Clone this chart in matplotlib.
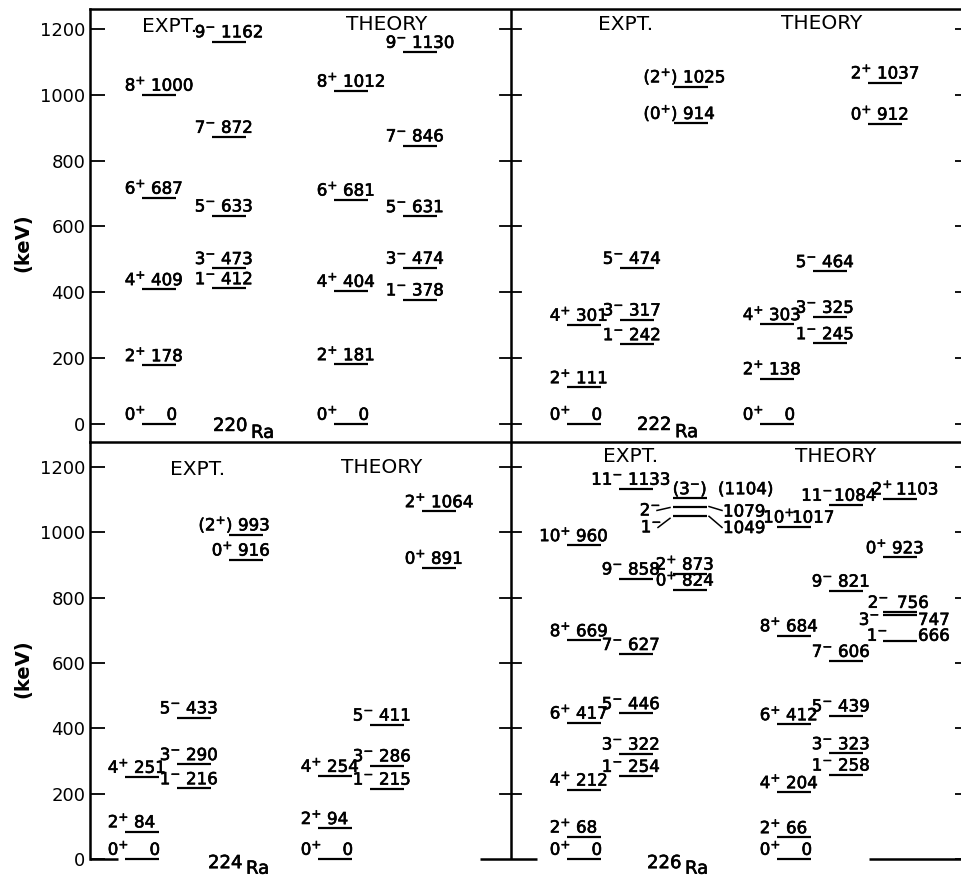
import re
import matplotlib
matplotlib.use("Agg")
import matplotlib.pyplot as plt
import matplotlib.patheffects as pe

# ---------------------------------------------------------------------------
# Level energies (keV) and spin-parity assignments of the Ra isotopes
# ---------------------------------------------------------------------------
RA220_EXPT_SPIN = [["0+", "2+", "4+", "6+", "8+"], ["1-", "3-", "5-", "7-", "9-"]]
RA220_EXPT_KEV = [[0, 178, 409, 687, 1000], [412, 473, 633, 872, 1162]]
RA220_THEO_SPIN = [["0+", "2+", "4+", "6+", "8+"], ["1-", "3-", "5-", "7-", "9-"]]
RA220_THEO_KEV = [[0, 181, 404, 681, 1012], [378, 474, 631, 846, 1130]]

RA222_EXPT_SPIN = [["0+", "2+", "4+"], ["1-", "3-", "5-"], ["(0+)", "(2+)"]]
RA222_EXPT_KEV = [[0, 111, 301], [242, 317, 474], [914, 1025]]
RA222_THEO_SPIN = [["0+", "2+", "4+"], ["1-", "3-", "5-"], ["0+", "2+"]]
RA222_THEO_KEV = [[0, 138, 303], [245, 325, 464], [912, 1037]]

RA224_EXPT_SPIN = [["0+", "2+", "4+"], ["1-", "3-", "5-"], ["0+", "(2+)"]]
RA224_EXPT_KEV = [[0, 84, 251], [216, 290, 433], [916, 993]]
RA224_THEO_SPIN = [["0+", "2+", "4+"], ["1-", "3-", "5-"], ["0+", "2+"]]
RA224_THEO_KEV = [[0, 94, 254], [215, 286, 411], [891, 1064]]

RA226_EXPT_SPIN = [["0+", "2+", "4+", "6+", "8+", "10+"],
                   ["1-", "3-", "5-", "7-", "9-", "11-"], ["0+", "2+"]]
RA226_EXPT_KEV = [[0, 68, 212, 417, 669, 960],
                  [254, 322, 446, 627, 858, 1133], [824, 873]]
RA226_EXPT_OCT_SPIN = ["1-", "2-", "(3-)"]
RA226_EXPT_OCT_KEV = [1049, 1079, 1104]
RA226_THEO_SPIN = [["0+", "2+", "4+", "6+", "8+", "10+"],
                   ["1-", "3-", "5-", "7-", "9-", "11-"], ["0+", "2+"]]
RA226_THEO_KEV = [[0, 66, 204, 412, 684, 1017],
                  [258, 323, 439, 606, 821, 1084], [923, 1103]]
RA226_THEO_OCT_SPIN = ["1-", "3-", "2-"]
RA226_THEO_OCT_KEV = [666, 747, 756]

Y_TICKS = [0, 200, 400, 600, 800, 1000, 1200]
Y_TICK_LABELS = ["0", "200", "400", "600", "800", "1000", "1200"]

# ---------------------------------------------------------------------------
# Layout (figure pixels)
# ---------------------------------------------------------------------------
W, H, DPI = 962, 877, 100
X_LEFT, X_RIGHT, X_MID = 90, 970, 511
LEVEL_W = 34
FS_LEVEL = 12
FS_HEAD = 14.5
LW_LEVEL = 1.6
LW_FRAME = 1.8
INK = [pe.withStroke(linewidth=0.45, foreground="k")]

plt.rcParams["font.family"] = ["DejaVu Sans"]
plt.rcParams["mathtext.fontset"] = "dejavusans"

fig = plt.figure(figsize=(W / DPI, H / DPI), dpi=DPI)


def add_panel(top_px, bottom_px, zero_px, px_per_kev):
    ax = fig.add_axes([X_LEFT / W, 1 - bottom_px / H,
                       (X_RIGHT - X_LEFT) / W, (bottom_px - top_px) / H])
    ax.set_xlim(X_LEFT, X_RIGHT)
    ax.set_ylim(-(bottom_px - zero_px) / px_per_kev,
                (zero_px - top_px) / px_per_kev)
    ax.set_xticks([])
    ax.set_yticks(Y_TICKS)
    ax.set_yticklabels(Y_TICK_LABELS)
    ax.tick_params(axis="y", direction="in", length=10.8, width=1.3,
                   labelsize=13, pad=3.5, left=True, right=True,
                   labelleft=True, labelright=False)
    for s in ax.spines.values():
        s.set_linewidth(LW_FRAME)
    ax.patch.set_alpha(0)
    return ax


ax_top = add_panel(9, 442, 424, 395 / 1200)
ax_bot = add_panel(442, 877, 859, 392 / 1200)

ax_top.spines["right"].set_visible(False)
ax_bot.spines["right"].set_visible(False)
ax_bot.spines["top"].set_visible(False)
ax_bot.spines["bottom"].set_visible(False)
ax_bot.spines["left"].set_bounds(0, ax_bot.get_ylim()[1])

for ax in (ax_top, ax_bot):
    ax.set_ylabel("(keV)", fontsize=14, fontweight="bold")
ax_top.yaxis.set_label_coords(-0.065, 0.46)
ax_bot.yaxis.set_label_coords(-0.065, 0.48)

# central divider with its ticks
for ax, y0 in ((ax_top, ax_top.get_ylim()[0]), (ax_bot, 0)):
    ax.plot([X_MID, X_MID], [y0, ax.get_ylim()[1]], color="k",
            lw=LW_FRAME, clip_on=False, solid_capstyle="butt")
    for t in Y_TICKS:
        if ax is ax_bot and t == 0:
            continue
        ax.plot([X_MID - 11, X_MID + 10], [t, t], color="k", lw=1.3,
                clip_on=False)

# zero-energy baseline pieces of the lower panels
for xa, xb in ((X_LEFT, 118), (480, 537), (869, X_RIGHT)):
    ax_bot.plot([xa, xb], [0, 0], color="k", lw=LW_FRAME, clip_on=False,
                solid_capstyle="butt")


def spin_tex(s):
    o, n, p, c = re.fullmatch(r"(\(?)(\d+)([+-])(\)?)", s).groups()
    return f"{o}{n}$^{{{p}}}${c}"


def level_line(ax, x0, e):
    ax.plot([x0, x0 + LEVEL_W], [e, e], color="k", lw=LW_LEVEL,
            solid_capstyle="butt", clip_on=False)


def put(ax, txt, x, e, dy_pt, ha, fs=FS_LEVEL):
    ax.annotate(txt, xy=(x, e), xytext=(0, dy_pt), textcoords="offset points",
                ha=ha, va="baseline", fontsize=fs, annotation_clip=False,
                path_effects=INK)


def draw_columns(ax, xs, spins, energies, shifts=None):
    """Draw level columns; `shifts` maps a level energy to label nudges (px)."""
    shifts = shifts or {}
    for x0, col_s, col_e in zip(xs, spins, energies):
        for s, e in zip(col_s, col_e):
            ds, de = shifts.get(e, (0, 0))
            level_line(ax, x0, e)
            put(ax, spin_tex(s), x0 + 4 + ds, e, 3, "right")
            if e == 0:
                put(ax, "0", x0 + LEVEL_W + 1, e, 3, "right")
            else:
                put(ax, str(e), x0 + 9 + de, e, 3, "left")


def headers(ax, x_expt, y_expt, x_theo, y_theo):
    ax.text(x_expt, y_expt, "EXPT.", ha="center", va="baseline",
            fontsize=FS_HEAD)
    ax.text(x_theo, y_theo, "THEORY", ha="center", va="baseline",
            fontsize=FS_HEAD)


def nucleus(ax, mass, x, e_mass, e_sym):
    ax.text(x, e_mass, mass, ha="left", va="baseline", fontsize=13,
            path_effects=INK)
    ax.text(x + 38, e_sym, "Ra", ha="left", va="baseline", fontsize=13,
            path_effects=INK)


# ----------------------------- 220Ra ---------------------------------------
draw_columns(ax_top, [142, 212], RA220_EXPT_SPIN, RA220_EXPT_KEV)
draw_columns(ax_top, [334, 403], RA220_THEO_SPIN, RA220_THEO_KEV)
headers(ax_top, 170, 1192, 387, 1197)
nucleus(ax_top, "220", 213, -21, -42)

# ----------------------------- 222Ra ---------------------------------------
draw_columns(ax_top, [567, 620, 674], RA222_EXPT_SPIN, RA222_EXPT_KEV)
draw_columns(ax_top, [760, 813, 868], RA222_THEO_SPIN, RA222_THEO_KEV)
headers(ax_top, 626, 1197, 822, 1200)
nucleus(ax_top, "222", 637, -18, -40)

# ----------------------------- 224Ra ---------------------------------------
draw_columns(ax_bot, [125, 177, 229], RA224_EXPT_SPIN, RA224_EXPT_KEV)
draw_columns(ax_bot, [318, 370, 422], RA224_THEO_SPIN, RA224_THEO_KEV)
headers(ax_bot, 198, 1175, 382, 1182)
nucleus(ax_bot, "224", 208, -28, -45)

# ----------------------------- 226Ra ---------------------------------------
draw_columns(ax_bot, [567, 619, 673], RA226_EXPT_SPIN, RA226_EXPT_KEV)
draw_columns(ax_bot, [777, 829, 883], RA226_THEO_SPIN, RA226_THEO_KEV,
             shifts={1017: (14, 6), 1084: (0, -4), 1103: (6, 4)})
headers(ax_bot, 631, 1215, 836, 1215)
nucleus(ax_bot, "226", 647, -28, -45)

# octupole-vibration band (experiment)
x0 = 673
x1 = x0 + LEVEL_W
e1, e2, e3 = RA226_EXPT_OCT_KEV
s1, s2, s3 = RA226_EXPT_OCT_SPIN
for e in RA226_EXPT_OCT_KEV:
    level_line(ax_bot, x0, e)
put(ax_bot, spin_tex(s3), (x0 + x1) / 2, e3, 3, "center")
put(ax_bot, f"({e3})", x1 + 11, e3, 3, "left")
put(ax_bot, spin_tex(s2), x0 - 12, e2, -6.5, "right")
put(ax_bot, spin_tex(s1), x0 - 11, e1, -11.5, "right")
put(ax_bot, str(e2), x1 + 16, e2, -7.2, "left")
put(ax_bot, str(e1), x1 + 16, e1, -12.0, "left")
lk = dict(color="k", lw=1.1, clip_on=False)
ax_bot.plot([x0 - 16, x0 - 3], [e2 - 12, e2 - 3], **lk)
ax_bot.plot([x0 - 15, x0 - 3], [e1 - 34, e1 - 6], **lk)
ax_bot.plot([x1 + 2, x1 + 15], [e2, e2 - 12], **lk)
ax_bot.plot([x1 + 2, x1 + 15], [e1, e1 - 34], **lk)

# octupole-vibration band (theory)
x0 = 883
x1 = x0 + LEVEL_W
t1, t3, t2 = RA226_THEO_OCT_KEV
u1, u3, u2 = RA226_THEO_OCT_SPIN
for e in RA226_THEO_OCT_KEV:
    level_line(ax_bot, x0, e)
put(ax_bot, spin_tex(u2), x0 + 6, t2, 3, "right")
put(ax_bot, str(t2), x0 + 14, t2, 3, "left")
put(ax_bot, spin_tex(u3), x0 - 3, t3, -7.2, "right")
put(ax_bot, str(t3), x1 + 1, t3, -7.2, "left")
put(ax_bot, spin_tex(u1), x0 + 5, t1, 0.5, "right")
put(ax_bot, str(t1), x1 + 1, t1, 0.5, "left")

fig.savefig("out.png", dpi=DPI)
